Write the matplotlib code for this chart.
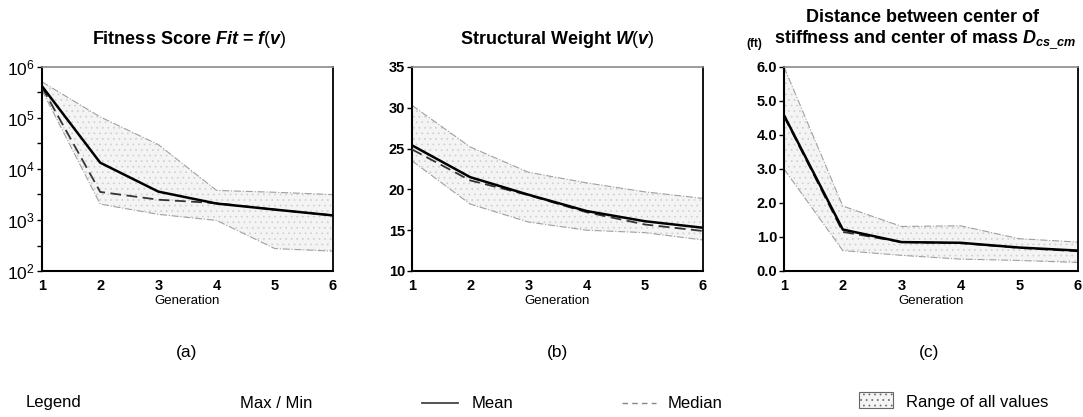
import matplotlib
matplotlib.use('Agg')
import matplotlib.pyplot as plt
import matplotlib.ticker as ticker
from matplotlib.lines import Line2D
from matplotlib.patches import Rectangle

plt.rcParams['font.family'] = ['Liberation Sans', 'DejaVu Sans']
plt.rcParams['mathtext.fontset'] = 'custom'
plt.rcParams['mathtext.rm'] = 'Liberation Sans'
plt.rcParams['mathtext.it'] = 'Liberation Sans:italic:bold'
plt.rcParams['mathtext.bf'] = 'Liberation Sans:bold'
plt.rcParams['hatch.linewidth'] = 0.5

# data
gen = [1, 2, 3, 4, 5, 6]

fit_mean = [4.2e5, 1.33e4, 3600, 2100, 1600, 1230]
fit_median = [4.0e5, 3550, 2500, 2140, 1600, 1230]
fit_max = [5.1e5, 1.05e5, 3.0e4, 3800, 3500, 3150]
fit_min = [3.5e5, 2050, 1290, 980, 275, 245]

w_mean = [25.4, 21.5, 19.35, 17.35, 16.1, 15.3]
w_median = [24.9, 21.1, 19.3, 17.2, 15.7, 14.9]
w_max = [30.3, 25.2, 22.1, 20.8, 19.7, 18.9]
w_min = [23.5, 18.2, 16.0, 15.0, 14.7, 13.8]

d_mean = [4.58, 1.22, 0.85, 0.83, 0.69, 0.60]
d_median = [4.55, 1.15, 0.85, 0.82, 0.68, 0.58]
d_max = [6.0, 1.91, 1.31, 1.33, 0.95, 0.85]
d_min = [3.0, 0.60, 0.46, 0.35, 0.31, 0.25]

W, H = 1083, 417
fig = plt.figure(figsize=(W / 100, H / 100), dpi=100)


def px(x0, y0, x1, y1):
    # pixel box -> figure fraction rect
    return [x0 / W, 1 - y1 / H, (x1 - x0) / W, (y1 - y0) / H]


ax_a = fig.add_axes(px(42, 67, 333, 271))
ax_b = fig.add_axes(px(412, 67, 703, 271))
ax_c = fig.add_axes(px(784, 67, 1078, 271))

panels = [
    (ax_a, fit_mean, fit_median, fit_max, fit_min),
    (ax_b, w_mean, w_median, w_max, w_min),
    (ax_c, d_mean, d_median, d_max, d_min),
]

for ax, mean, median, vmax, vmin in panels:
    ax.fill_between(gen, vmin, vmax, facecolor='#f4f4f4', edgecolor='#cfcfcf',
                    hatch='...', linewidth=0, zorder=1)
    ax.plot(gen, vmax, color='#a0a0a0', lw=0.8, ls='-.', zorder=2)
    ax.plot(gen, vmin, color='#a0a0a0', lw=0.8, ls='-.', zorder=2)
    ax.plot(gen, median, color='#333333', lw=1.3, ls=(0, (6, 3)), zorder=3)
    ax.plot(gen, mean, color='black', lw=1.8, zorder=4)
    ax.set_xlim(1, 6)
    ax.set_xticks(gen)
    ax.tick_params(axis='x', length=0, pad=6, labelsize=10.5)
    ax.tick_params(axis='y', length=3.5, width=1, pad=1.5, labelsize=10.5)
    for lab in ax.get_xticklabels():
        lab.set_fontweight('bold')
    ax.set_xlabel('Generation', fontsize=9.5, labelpad=1)
    for s in ['left', 'bottom']:
        ax.spines[s].set_linewidth(1.5)
    ax.spines['right'].set_linewidth(1.3)
    ax.spines['top'].set_color('#8a8a8a')
    ax.spines['top'].set_linewidth(1.2)

# (a) log scale
ax_a.set_yscale('log')
ax_a.set_ylim(1e2, 1e6)
ax_a.yaxis.set_major_locator(ticker.LogLocator(base=10, numticks=10))
ax_a.yaxis.set_minor_locator(ticker.LogLocator(base=10, subs=[10 ** 0.5], numticks=10))
ax_a.yaxis.set_minor_formatter(ticker.NullFormatter())
ax_a.tick_params(axis='y', which='minor', length=3.5, width=1)
ax_a.tick_params(axis='y', labelsize=12.5)

# (b)
ax_b.set_ylim(10, 35)
ax_b.set_yticks([10, 15, 20, 25, 30, 35])
for lab in ax_b.get_yticklabels():
    lab.set_fontweight('bold')

# (c)
ax_c.set_ylim(0, 6)
ax_c.set_yticks([0, 1, 2, 3, 4, 5, 6])
ax_c.yaxis.set_major_formatter(ticker.FormatStrFormatter('%.1f'))
for lab in ax_c.get_yticklabels():
    lab.set_fontweight('bold')


def ftext(x, y, s, **kw):
    fig.text(x / W, 1 - y / H, s, **kw)


ftext(189, 39, r'Fitness Score $Fit$ = $f(v)$', fontsize=13, fontweight='bold',
      ha='center', va='center')
ftext(557, 39, r'Structural Weight $W(v)$', fontsize=13, fontweight='bold',
      ha='center', va='center')
ftext(922, 18, 'Distance between center of', fontsize=13, fontweight='bold',
      ha='center', va='center')
ftext(925, 40, r'stiffness and center of mass $D_{cs\_cm}$', fontsize=13,
      fontweight='bold', ha='center', va='center')
ftext(754, 44, '(ft)', fontsize=8.5, fontweight='bold', ha='center', va='center')

for xc, lab in [(187, '(a)'), (557, '(b)'), (929, '(c)')]:
    ftext(xc, 353, lab, fontsize=12.5, ha='center', va='center')

# legend row
ly = 403
ftext(26, ly, 'Legend', fontsize=12, ha='left', va='center')
ftext(240, ly, 'Max / Min', fontsize=12, ha='left', va='center')
ftext(472, ly, 'Mean', fontsize=12, ha='left', va='center')
ftext(668, ly, 'Median', fontsize=12, ha='left', va='center')
ftext(906, ly, 'Range of all values', fontsize=12, ha='left', va='center')

fig.add_artist(Line2D([422 / W, 458 / W], [1 - ly / H, 1 - ly / H],
                      color='#444444', lw=1.3))
fig.add_artist(Line2D([622 / W, 656 / W], [1 - ly / H, 1 - ly / H],
                      color='#888888', lw=1.0, ls=(0, (4, 3))))
fig.add_artist(Rectangle((859 / W, 1 - 408 / H), 34 / W, 16 / H,
                         facecolor='#f4f4f4', edgecolor='#666666', lw=0.8,
                         hatch='...'))

fig.savefig('out.png', dpi=100)
